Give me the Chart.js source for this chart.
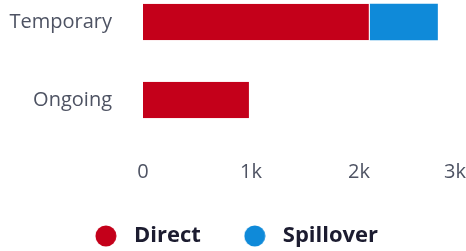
<!DOCTYPE html>
<html>
<head>
<meta charset="utf-8">
<script src="https://cdn.jsdelivr.net/npm/chart.js@4"></script>
<style>
  html, body { margin: 0; padding: 0; overflow: hidden; background: #fff; }
  #wrap { position: absolute; left: 0; top: -17px; width: 467px; height: 274px; }
</style>
</head>
<body>
<div id="wrap"><canvas id="chart"></canvas></div>
<script>
// data
const categories = ['Temporary', 'Ongoing'];
const directValues = [2100, 990];
const spilloverValues = [630, null];
const seriesNames = ['Direct', 'Spillover'];
const tickValues = [0, 1000, 2000, 3000];

const red = '#c4001a';
const blue = '#0f8ad9';
const axisText = '#4e5363';

// round legend markers drawn on small canvases
function dot(color) {
  const c = document.createElement('canvas');
  c.width = 22; c.height = 22;
  const g = c.getContext('2d');
  g.fillStyle = color;
  g.beginPath();
  g.arc(11, 11, 10.5, 0, Math.PI * 2);
  g.fill();
  return c;
}
const markers = [dot(red), dot(blue)];

// keep the last x label inside the picture, like the original does
const fitLastTick = {
  id: 'fitLastTick',
  beforeDraw(chart) {
    const items = chart.scales.x.getLabelItems();
    const last = items[items.length - 1];
    if (!last) return;
    const ctx = chart.ctx;
    ctx.save();
    ctx.font = last.font.string;
    const half = ctx.measureText(last.label).width / 2;
    ctx.restore();
    const t = last.options.translation;
    t[0] = Math.min(t[0], chart.width - 1 - half);
  }
};

new Chart(document.getElementById('chart'), {
  type: 'bar',
  data: {
    labels: categories,
    datasets: [
      {
        label: seriesNames[0],
        data: directValues,
        backgroundColor: red,
        borderColor: '#fff',
        borderWidth: { top: 0, right: 1, bottom: 0, left: 0 },
        borderSkipped: false
      },
      {
        label: seriesNames[1],
        data: spilloverValues,
        backgroundColor: blue,
        borderWidth: 0
      }
    ]
  },
  options: {
    indexAxis: 'y',
    responsive: true,
    maintainAspectRatio: false,
    animation: false,
    categoryPercentage: 1,
    barPercentage: 0.465,
    layout: { padding: 0 },
    scales: {
      x: {
        stacked: true,
        min: 0,
        max: 3000,
        afterBuildTicks: s => { s.ticks = tickValues.map(v => ({ value: v })); },
        afterFit: s => { s.paddingRight = 0; s.height = 49; },
        grid: { display: false, drawTicks: false },
        border: { display: false },
        ticks: {
          padding: 21,
          color: axisText,
          font: { family: 'Open Sans', size: 20 },
          callback: v => v === 0 ? '0' : (v / 1000) + 'k'
        }
      },
      y: {
        stacked: true,
        afterFit: s => { s.width = 143; s.paddingTop = 0; s.paddingBottom = 0; },
        grid: { display: false, drawTicks: false },
        border: { display: false },
        ticks: {
          padding: 31,
          color: axisText,
          font: { family: 'Open Sans', size: 20 }
        }
      }
    },
    plugins: {
      tooltip: { enabled: false },
      legend: {
        position: 'bottom',
        labels: {
          usePointStyle: true,
          pointStyleWidth: 34,
          padding: 37,
          color: '#1c1c30',
          font: { family: 'Open Sans', size: 22, weight: 'bold' },
          generateLabels: chart => Chart.defaults.plugins.legend.labels.generateLabels(chart)
            .map((item, i) => Object.assign(item, { pointStyle: markers[i] }))
        }
      }
    }
  },
  plugins: [fitLastTick]
});
</script>
</body>
</html>
